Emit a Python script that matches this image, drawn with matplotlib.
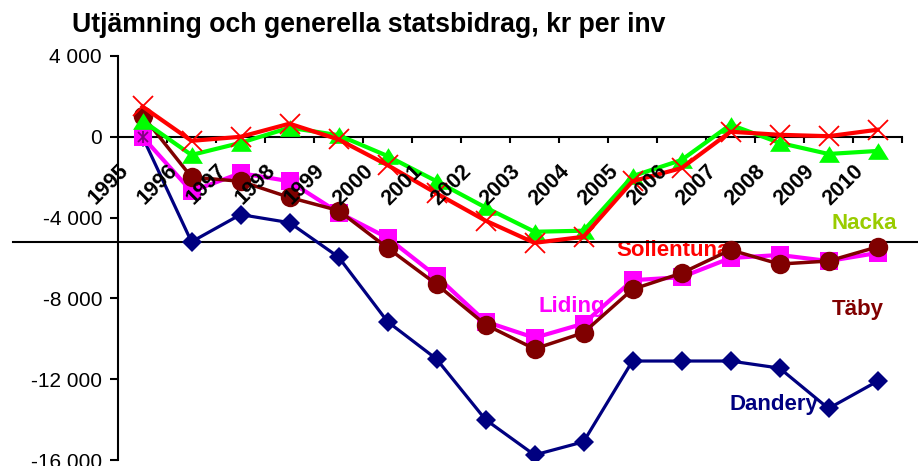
import matplotlib
matplotlib.use("Agg")
import matplotlib.pyplot as plt
import matplotlib.transforms as mtransforms
from matplotlib.path import Path
import numpy as np

plt.rcParams['font.family'] = ['Liberation Sans', 'DejaVu Sans']

years = [str(y) for y in range(1995, 2011)]
dandery = [0, -5200, -3850, -4250, -5950, -9150, -11000, -14000, -15750, -15100,
           -11100, -11100, -11100, -11450, -13450, -12100]
liding = [0, -2700, -1800, -2200, -3750, -5000, -6900, -9150, -9950, -9250,
          -7100, -6950, -6000, -5850, -6150, -5750]
taby = [1050, -2000, -2200, -3000, -3650, -5500, -7300, -9300, -10500, -9700,
        -7550, -6750, -5600, -6300, -6150, -5450]
nacka = [800, -900, -300, 450, 80, -950, -2200, -3500, -4700, -4650,
         -1950, -1150, 600, -300, -850, -700]
sollentuna = [1500, -200, 0, 650, -130, -1400, -2800, -4150, -5250, -4950,
              -2200, -1550, 250, 100, 30, 350]
other = [0]
separator_value = -5230

yticks = [4000, 0, -4000, -8000, -12000, -16000]
yticklabels = ['4 000', '0', '-4 000', '-8 000', '-12 000', '-16 000']

fig = plt.figure(figsize=(9.18, 4.66), dpi=100)
ax = fig.add_axes([118/918, 1-460/466, (902-118)/918, (460-56)/466])

x = np.arange(len(years)) + 0.5

tri = Path([(0, 0.8), (-1, -0.8), (1, -0.8), (0, 0.8)],
           [Path.MOVETO, Path.LINETO, Path.LINETO, Path.CLOSEPOLY])

ax.plot(x, dandery, color='#000080', lw=2.3, marker='D', ms=10, mec='#000080', mew=0, zorder=3)
ax.plot(x, liding, color='#FF00FF', lw=3, marker='s', ms=12.5, mec='#FF00FF', mew=0, zorder=4)
ax.plot(x, taby, color='#800000', lw=2.5, marker='o', ms=14, mec='#800000', mew=0, zorder=5)
ax.plot(x, nacka, color='#00FF00', lw=3, marker=tri, ms=15, mec='#00FF00', mew=0, zorder=6)
ax.plot(x, sollentuna, color='#FF0000', lw=3, marker='x', ms=14, mec='#FF0000', mew=1.3, zorder=7)
ax.plot(x[:len(other)], other, ls='none', marker='x', ms=7, mec='#800080', mew=1.3, zorder=8)
ax.plot(x[:len(other)], other, ls='none', marker='|', ms=8, mec='#800080', mew=1.3, zorder=8)

ax.set_xlim(0, len(years))
ax.set_ylim(-16000, 4000)
ax.set_yticks(yticks)
ax.set_yticklabels(yticklabels, fontsize=15)
ax.set_xticks(np.arange(1, len(years) + 1))
ax.set_xticklabels([])
ax.tick_params(axis='x', direction='out', length=4.5, width=1.5)
ax.tick_params(axis='y', direction='out', length=5.5, width=1.5, pad=6)

for s in ['top', 'right']:
    ax.spines[s].set_visible(False)
ax.spines['bottom'].set_position(('data', 0))
ax.spines['bottom'].set_linewidth(1.5)
ax.spines['left'].set_linewidth(1.5)
ax.spines['bottom'].set_zorder(2)

# year labels
off = mtransforms.ScaledTranslation(-17/100, -31/100, fig.dpi_scale_trans)
for xi, lab in zip(x, years):
    ax.text(xi, 0, lab, transform=ax.transData + off, rotation=45,
            rotation_mode='anchor', ha='right', va='center',
            fontsize=15.5, fontweight='bold', zorder=10)

# separator line
trans = mtransforms.blended_transform_factory(fig.transFigure, ax.transData)
ax.plot([13/918, 1.0], [separator_value, separator_value], color='black', lw=1.5,
        transform=trans, clip_on=False, zorder=2)

# series labels
lab_kw = dict(fontsize=16, fontweight='bold', ha='center', va='center', zorder=1)
ax.text(15.22, -4280, 'Nacka', color='#99CC00', **lab_kw)
ax.text(11.32, -5620, 'Sollentuna', color='#FF0000', **lab_kw)
ax.text(15.09, -8550, 'Täby', color='#800000', **lab_kw)
ax.text(9.27, -8400, 'Liding', color='#FF00FF', **lab_kw)
ax.text(13.38, -13270, 'Dandery', color='#000080', **lab_kw)

fig.text(72/918, 1-25/466, 'Utjämning och generella statsbidrag, kr per inv',
         fontsize=19.2, fontweight='bold', ha='left', va='center')

fig.savefig('out.png', dpi=100)
